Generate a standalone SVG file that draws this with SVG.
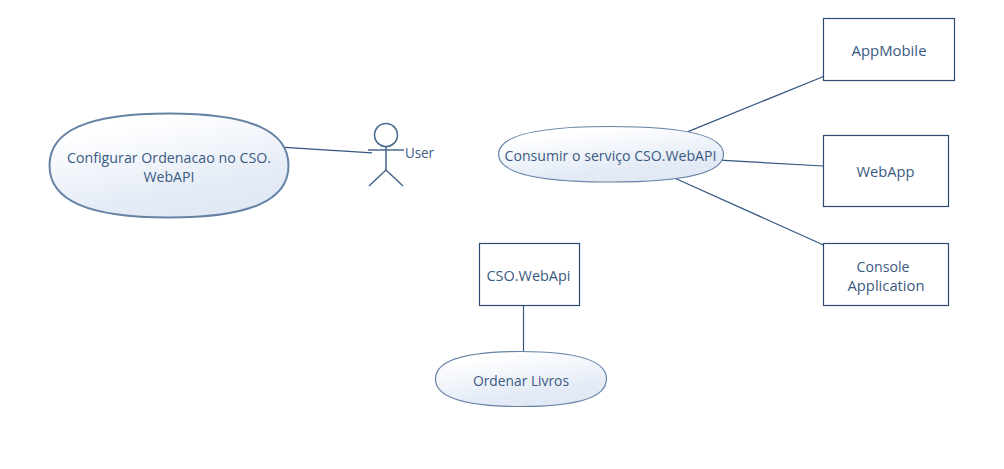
<svg xmlns="http://www.w3.org/2000/svg" width="1004" height="469" viewBox="0 0 1004 469">
<style>
.box{fill:#fff;stroke:#2b4a70;stroke-width:1.2}
.uc{fill:url(#g);stroke:#6683a6;stroke-width:1.2}
.uc.big{stroke-width:2}
.ln{fill:none;stroke:#34567e;stroke-width:1.2}
.ac{fill:none;stroke:#4a6a90;stroke-width:1.6}
text{font-family:"Open Sans","Noto Sans","Liberation Sans",sans-serif;font-size:14px;fill:#3a5a82;text-anchor:middle}
</style>
<defs><linearGradient id="g" x1="0.25" y1="0" x2="0.7" y2="1"><stop offset="0.1" stop-color="#ffffff"/><stop offset="0.75" stop-color="#e4ebf6"/><stop offset="1" stop-color="#e0e8f4"/></linearGradient></defs>
<rect width="1004" height="469" fill="#fff"/>
<g id="connectors">
<line class="ln" x1="285" y1="147.300" x2="372" y2="152.800"/>
<line class="ln" x1="688" y1="131.600" x2="823.500" y2="76.500"/>
<line class="ln" x1="720" y1="160.200" x2="823.500" y2="166"/>
<line class="ln" x1="675" y1="178.200" x2="823.500" y2="245"/>
<line class="ln" x1="523.500" y1="305.500" x2="523.500" y2="354"/>
</g>
<g id="uc-config"><path class="uc big" d="M49.500 165.500C49.500 130.500 88 113.500 169 113.500S288.500 130.500 288.500 165.500S250 217.500 169 217.500S49.500 200.500 49.500 165.500Z"/><text x="169" y="163" textLength="204" lengthAdjust="spacingAndGlyphs">Configurar Ordenacao no CSO.</text><text x="169" y="182" textLength="51" lengthAdjust="spacingAndGlyphs">WebAPI</text></g>
<g id="actor-user"><circle class="ac" cx="386" cy="135" r="11.500"/><path class="ac" d="M386 147V170M368 150H404M369 186L386 170L403 186"/><text x="419.500" y="158" textLength="29" lengthAdjust="spacingAndGlyphs">User</text></g>
<g id="uc-consumir"><path class="uc" d="M498.500 154.250C498.500 135.500 535 126.500 611 126.500S723.500 135.500 723.500 154.250S687 182 611 182S498.500 173 498.500 154.250Z"/><text x="610.500" y="161" textLength="212" lengthAdjust="spacingAndGlyphs">Consumir o serviço CSO.WebAPI</text></g>
<g id="uc-ordenar"><path class="uc" d="M435.500 379C435.500 360.500 463 351.500 521 351.500S606.500 360.500 606.500 379S579 406.500 521 406.500S435.500 397.500 435.500 379Z"/><text x="521" y="386" textLength="96" lengthAdjust="spacingAndGlyphs">Ordenar Livros</text></g>
<g id="n-appmobile"><rect class="box" x="823.500" y="18.500" width="131" height="62"/><text x="889" y="56" textLength="75" lengthAdjust="spacingAndGlyphs">AppMobile</text></g>
<g id="n-webapp"><rect class="box" x="823.500" y="135.500" width="125" height="71"/><text x="885.500" y="177" textLength="58" lengthAdjust="spacingAndGlyphs">WebApp</text></g>
<g id="n-console"><rect class="box" x="823.500" y="243.500" width="125" height="62"/><text x="883" y="272" textLength="53" lengthAdjust="spacingAndGlyphs">Console</text><text x="886" y="291" textLength="77" lengthAdjust="spacingAndGlyphs">Application</text></g>
<g id="n-csowebapi"><rect class="box" x="479.500" y="243.500" width="100" height="62"/><text x="528.500" y="281" textLength="84" lengthAdjust="spacingAndGlyphs">CSO.WebApi</text></g>
</svg>
